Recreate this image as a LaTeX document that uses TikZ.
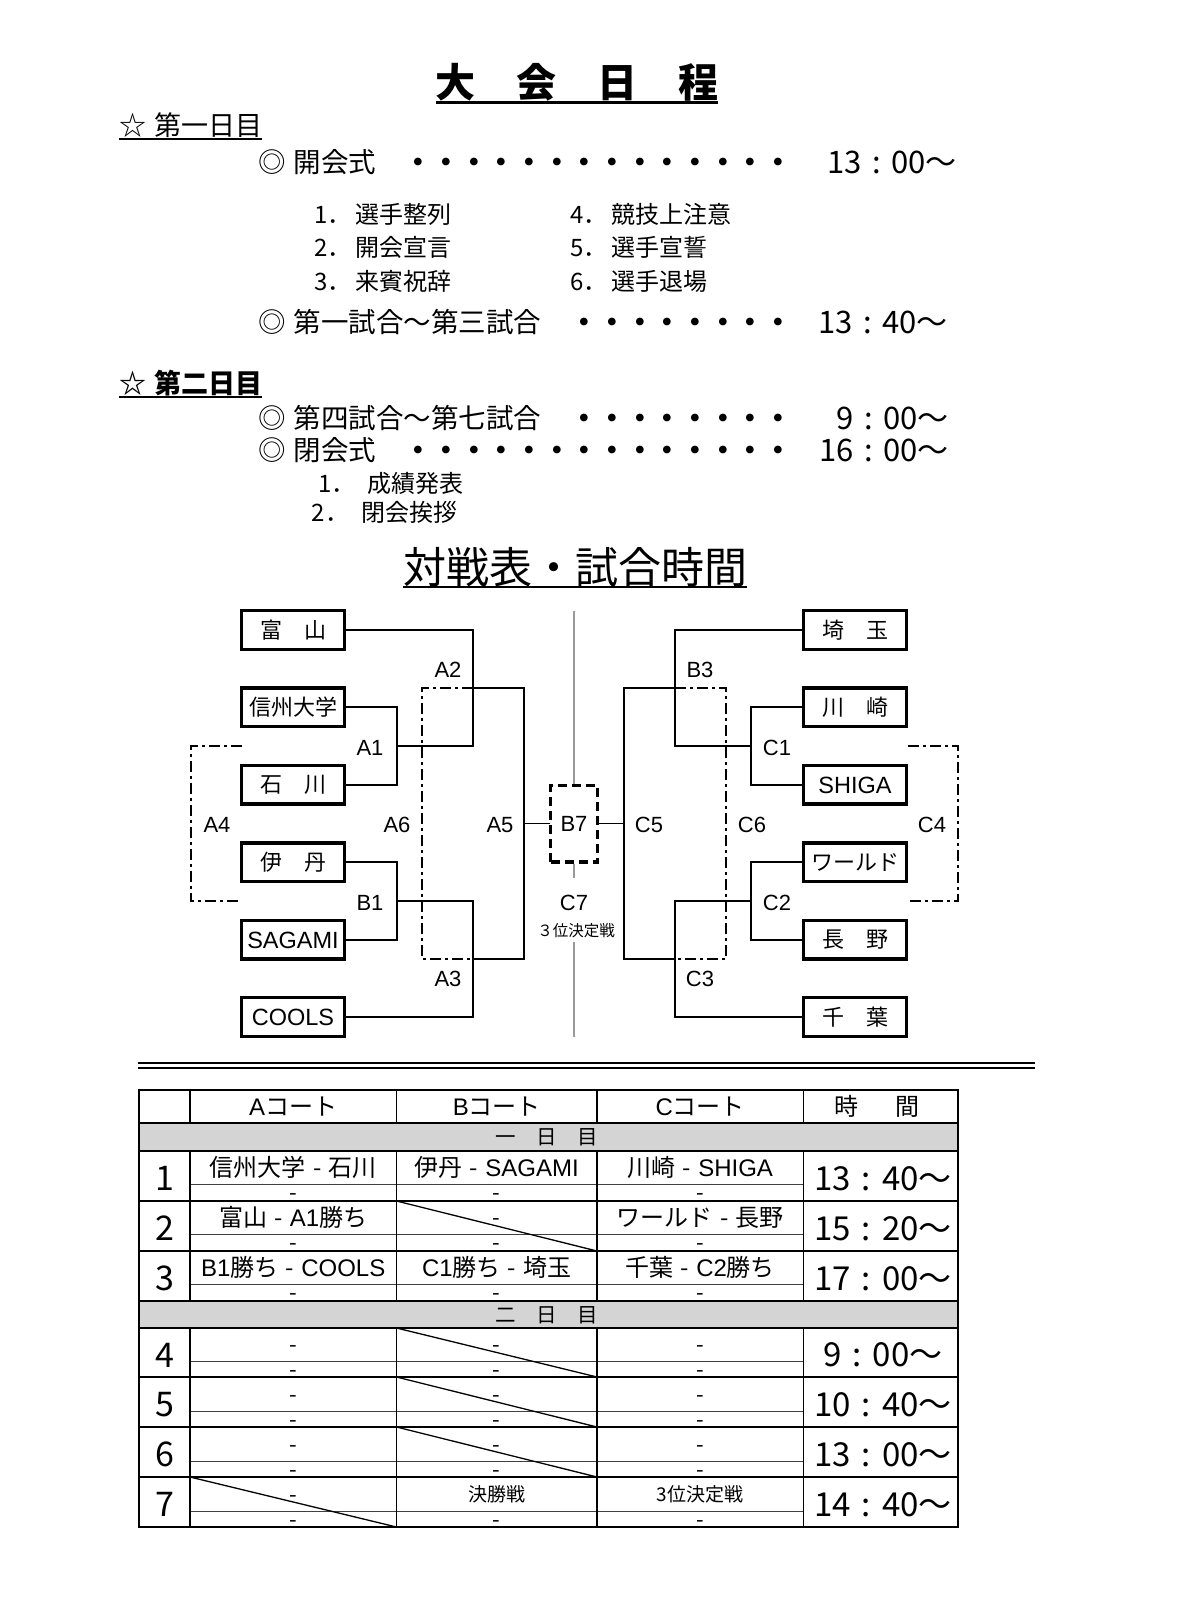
\documentclass[tikz,border=0pt]{standalone}
\usepackage{fontspec}
\setmainfont{Noto Sans CJK JP}
\newfontfamily\lat{Liberation Sans}
\newcommand\La[1]{{\lat #1}}
\newcommand\co{\makebox[0.95em]{:}}
\newcommand\hy{\hspace{0.3em}-\hspace{0.3em}}
\begin{document}
\begin{tikzpicture}[x=1pt,y=-1pt,
  fz/.style={font={\fontsize{#1}{#1}\selectfont}, text height={0.74*#1pt}, text depth=0pt, inner sep=0pt},
  fzb/.style={font={\fontsize{#1}{#1}\selectfont\bfseries}, text height={0.74*#1pt}, text depth=0pt, inner sep=0pt},
  fzl/.style={font={\fontsize{#1}{#1}\selectfont\lat}, text height={0.74*#1pt}, text depth=0pt, inner sep=0pt},
  team/.style={draw, line width=3.4pt, minimum width=102.5pt, minimum height=38.5pt, fz=22},
  conn/.style={line width=1.9pt, line cap=rect},
  dashdot/.style={line width=1.7pt, dash pattern=on 11pt off 4pt on 3pt off 4pt},
  grayline/.style={line width=1.6pt, draw=black!40},
  ul/.style={line width=2.2pt},
  thick line/.style={line width=2pt},
  col line/.style={line width=1.3pt},
  mid line/.style={line width=0.8pt, draw=black!75},
  diag/.style={line width=1.3pt},
]
\fill[white] (0,0) rectangle (1179,1608);
\useasboundingbox (0,0) rectangle (1179,1608);

% ---------- title ----------
\node[fzb=40] (title) at (577,82.5) {大\hspace{40.7pt}会\hspace{40.7pt}日\hspace{40.7pt}程};
\draw[line width=2.6pt] ([yshift=-5pt]title.south west) -- ([yshift=-5pt]title.south east);

% ---------- day 1 ----------
\node[fz=27, anchor=west] (day1) at (119,126) {☆\hspace{8pt}第一日目};
\draw[ul] ([yshift=-3pt]day1.south west) -- ([yshift=-3pt]day1.south east);

\node[fz=27.5, anchor=west] (open) at (258,162) {◎\hspace{8pt}開会式};
\node[fzb=27.65, anchor=west] (dots1) at (404.7,162) {・・・・・・・・・・・・・・};
\node[fz=31, anchor=east] (time1) at (957,162) {13\co 00〜};

\node[fz=24, anchor=west] (i1) at (314,215) {1．\hspace{4pt}選手整列};
\node[fz=24, anchor=west] (i2) at (314,248) {2．\hspace{4pt}開会宣言};
\node[fz=24, anchor=west] (i3) at (314,282) {3．\hspace{4pt}来賓祝辞};
\node[fz=24, anchor=west] (i4) at (570,215) {4．\hspace{4pt}競技上注意};
\node[fz=24, anchor=west] (i5) at (570,248) {5．\hspace{4pt}選手宣誓};
\node[fz=24, anchor=west] (i6) at (570,282) {6．\hspace{4pt}選手退場};

\node[fz=27.5, anchor=west] (m13) at (258,322) {◎\hspace{8pt}第一試合〜第三試合};
\node[fzb=27.65, anchor=west] (dots2) at (570.6,322) {・・・・・・・・};
\node[fz=31, anchor=east] (time2) at (948,322) {13\co 40〜};

% ---------- day 2 ----------
\node[fzb=27, anchor=west] (day2) at (119,384) {☆\hspace{8pt}第二日目};
\draw[ul] ([yshift=-3pt]day2.south west) -- ([yshift=-3pt]day2.south east);

\node[fz=27.5, anchor=west] (m47) at (258,418) {◎\hspace{8pt}第四試合〜第七試合};
\node[fzb=27.65, anchor=west] (dots3) at (570.6,418) {・・・・・・・・};
\node[fz=31, anchor=east] (time3) at (949,418) {9\co 00〜};
\node[fz=27.5, anchor=west] (close) at (258,450) {◎\hspace{8pt}閉会式};
\node[fzb=27.65, anchor=west] (dots4) at (404.7,450) {・・・・・・・・・・・・・・};
\node[fz=31, anchor=east] (time4) at (949,450) {16\co 00〜};
\node[fz=24, anchor=west] (k1) at (318,484) {1．\hspace{12pt}成績発表};
\node[fz=24, anchor=west] (k2) at (311.5,513) {2．\hspace{12pt}閉会挨拶};

% ---------- subtitle ----------
\node[fz=43] (sub) at (575,567.5) {対戦表・試合時間};
\draw[ul] ([yshift=-3.6pt]sub.south west) -- ([yshift=-3.6pt]sub.south east);

% ---------- bracket ----------
\node[draw, line width=3.3pt, dash pattern=on 9pt off 5pt, minimum width=46.7pt, minimum height=76.7pt, fzl=22] (B7) at (574,823.5) {B7};
\coordinate (gtop) at (574,611);
\coordinate (g2) at (574,878);
\coordinate (g3) at (574,941.5);
\coordinate (gbot) at (574,1037);
\draw[grayline] (gtop) -- (B7.north);
\draw[grayline] (B7.south) -- (g2);
\draw[grayline] (g3) -- (gbot);
\node[fzl=22] (lC7) at (574,902) {C7};
\node[fz=15.5] (third) at (576,931) {３位決定戦};

\node[team] (toyama) at (293,630) {富　山};
\node[team] (shinshu) at (293,707.4) {信州大学};
\node[team] (ishikawa) at (293,784.8) {石　川};
\node[team] (itami) at (293,862.2) {伊　丹};
\node[team, fzl=23.5] (sagami) at (293,939.6) {SAGAMI};
\node[team, fzl=23.5] (cools) at (293,1017) {COOLS};

\node[team] (saitama) at (855,630) {埼　玉};
\node[team] (kawasaki) at (855,707.4) {川　崎};
\node[team, fzl=23.5] (shiga) at (855,784.8) {SHIGA};
\node[team] (world) at (855,862.2) {ワールド};
\node[team] (nagano) at (855,939.6) {長　野};
\node[team] (chiba) at (855,1017) {千　葉};

% junctions left
\coordinate (A1j) at (397,746.1);
\coordinate (A2lo) at (473,746.1);
\coordinate (A2j) at (473,688);
\coordinate (A5j) at (524,823.5);
\coordinate (A3j) at (473,959);
\coordinate (B1j) at (397,900.9);
\coordinate (A3up) at (473,900.9);
% junctions right
\coordinate (C1j) at (751,746.1);
\coordinate (B3lo) at (675,746.1);
\coordinate (B3j) at (675,688);
\coordinate (C5j) at (624,823.5);
\coordinate (C3j) at (675,959);
\coordinate (C2j) at (751,900.9);
\coordinate (C3up) at (675,900.9);

\draw[conn] (shinshu.east) -| (A1j) |- (ishikawa.east);
\draw[conn] (A1j) -- (A2lo);
\draw[conn] (toyama.east) -| (A2lo);
\draw[conn] (itami.east) -| (B1j) |- (sagami.east);
\draw[conn] (B1j) -- (A3up);
\draw[conn] (cools.east) -| (A3up);
\draw[conn] (A2j) -| (A5j) |- (A3j);
\draw[conn] (A5j) -- (B7.west);

\draw[conn] (kawasaki.west) -| (C1j) |- (shiga.west);
\draw[conn] (C1j) -- (B3lo);
\draw[conn] (saitama.west) -| (B3lo);
\draw[conn] (world.west) -| (C2j) |- (nagano.west);
\draw[conn] (C2j) -- (C3up);
\draw[conn] (chiba.west) -| (C3up);
\draw[conn] (B3j) -| (C5j) |- (C3j);
\draw[conn] (C5j) -- (B7.east);

% dash-dot brackets
\coordinate (A6a) at (422,688);
\coordinate (A6b) at (422,959);
\draw[dashdot] (A2j) -- (A6a) -- (A6b) -- (A3j);
\coordinate (C6a) at (726,688);
\coordinate (C6b) at (726,959);
\draw[dashdot] (B3j) -- (C6a) -- (C6b) -- (C3j);
\coordinate (A4a) at (242,746.1);
\coordinate (A4b) at (191,746.1);
\coordinate (A4c) at (191,900.9);
\coordinate (A4d) at (242,900.9);
\draw[dashdot] (A4a) -- (A4b) -- (A4c) -- (A4d);
\coordinate (C4a) at (908,746.1);
\coordinate (C4b) at (958,746.1);
\coordinate (C4c) at (958,900.9);
\coordinate (C4d) at (908,900.9);
\draw[dashdot] (C4a) -- (C4b) -- (C4c) -- (C4d);

% bracket labels
\node[fzl=22] (lA2) at (448,669) {A2};
\node[fzl=22] (lA1) at (370,747) {A1};
\node[fzl=22] (lA4) at (217,824) {A4};
\node[fzl=22] (lA6) at (397,824) {A6};
\node[fzl=22] (lA5) at (500,824) {A5};
\node[fzl=22] (lB1) at (370,902) {B1};
\node[fzl=22] (lA3) at (448,978) {A3};
\node[fzl=22] (lB3) at (700,669) {B3};
\node[fzl=22] (lC1) at (777,747) {C1};
\node[fzl=22] (lC4) at (932,824) {C4};
\node[fzl=22] (lC6) at (752,824) {C6};
\node[fzl=22] (lC5) at (649,824) {C5};
\node[fzl=22] (lC2) at (777,902) {C2};
\node[fzl=22] (lC3) at (700,978) {C3};

% ---------- double rule ----------
\draw[line width=2pt] (138,1063.3) -- (1035,1063.3);
\draw[line width=2pt] (138,1067.8) -- (1035,1067.8);

% ---------- table ----------
\fill[black!17] (139,1123) rectangle (958,1151);
\fill[black!17] (139,1301) rectangle (958,1328);
\foreach \m in {1184,1234,1284,1361,1411,1461,1511}
  \draw[mid line] (190,\m) -- (803.5,\m);
\draw[diag] (396.5,1201) -- (597,1251);
\draw[diag] (396.5,1328) -- (597,1377);
\draw[diag] (396.5,1377) -- (597,1427);
\draw[diag] (396.5,1427) -- (597,1477);
\draw[diag] (190,1477) -- (396.5,1527);
\foreach \cx in {190,396.5,597,803.5} {
  \draw[col line] (\cx,1090) -- (\cx,1123);
  \draw[col line] (\cx,1151) -- (\cx,1301);
  \draw[col line] (\cx,1328) -- (\cx,1527);
}
\foreach \ry in {1123,1151,1201,1251,1301,1328,1377,1427,1477}
  \draw[thick line] (139,\ry) -- (958,\ry);
\draw[thick line] (139,1090) rectangle (958,1527);

\node[fz=24] (hA) at (293.25,1106.5) {\La{A}コート};
\node[fz=24] (hB) at (496.75,1106.5) {\La{B}コート};
\node[fz=24] (hC) at (700.25,1106.5) {\La{C}コート};
\node[fz=24] (hT) at (877,1106.5) {時\hspace{37pt}間};
\node[fz=20.5] (band1) at (546.5,1137) {一\hspace{20.7pt}日\hspace{20.7pt}目};
\node[fz=20.5] (band2) at (546.5,1314.5) {二\hspace{20.7pt}日\hspace{20.7pt}目};

\foreach \n/\yy/\hh/\mm in {1/1178/13/40,2/1228/15/20,3/1278/17/00,4/1354.5/9/00,5/1404/10/40,6/1454/13/00,7/1504/14/40} {
  \node[fz=34] (num\n) at (164.5,\yy) {\n};
  \node[fz=33] (tm\n) at (883,\yy) {\hh\co\mm〜};
}

\node[fz=24] (r1A) at (293.25,1167.5) {信州大学\hy 石川};
\node[fz=24] (r1B) at (496.75,1167.5) {伊丹\hy\La{SAGAMI}};
\node[fz=24] (r1C) at (700.25,1167.5) {川崎\hy\La{SHIGA}};
\node[fz=24] (r2A) at (293.25,1217.5) {富山\hy\La{A1}勝ち};
\node[fz=22] (r2B) at (496.75,1217.5) {-};
\node[fz=24] (r2C) at (700.25,1217.5) {ワールド\hy 長野};
\node[fz=24] (r3A) at (293.25,1267.5) {\La{B1}勝ち\hy\La{COOLS}};
\node[fz=24] (r3B) at (496.75,1267.5) {\La{C1}勝ち\hy 埼玉};
\node[fz=24] (r3C) at (700.25,1267.5) {千葉\hy\La{C2}勝ち};
\foreach \yy/\r in {1344.5/4,1394/5,1444/6}
  \foreach \xx/\c in {293.25/A,496.75/B,700.25/C}
    \node[fz=22] (r\r\c) at (\xx,\yy) {-};
\node[fz=22] (r7A) at (293.25,1494) {-};
\node[fz=19] (r7B) at (496.75,1494) {決勝戦};
\node[fz=19] (r7C) at (700.25,1494) {3位決定戦};
\foreach \yy/\r in {1192.5/1,1242.5/2,1292.5/3,1369/4,1419/5,1469/6,1519/7}
  \foreach \xx/\c in {293.25/A,496.75/B,700.25/C}
    \node[fz=22] (s\r\c) at (\xx,\yy) {-};
\end{tikzpicture}
\end{document}
